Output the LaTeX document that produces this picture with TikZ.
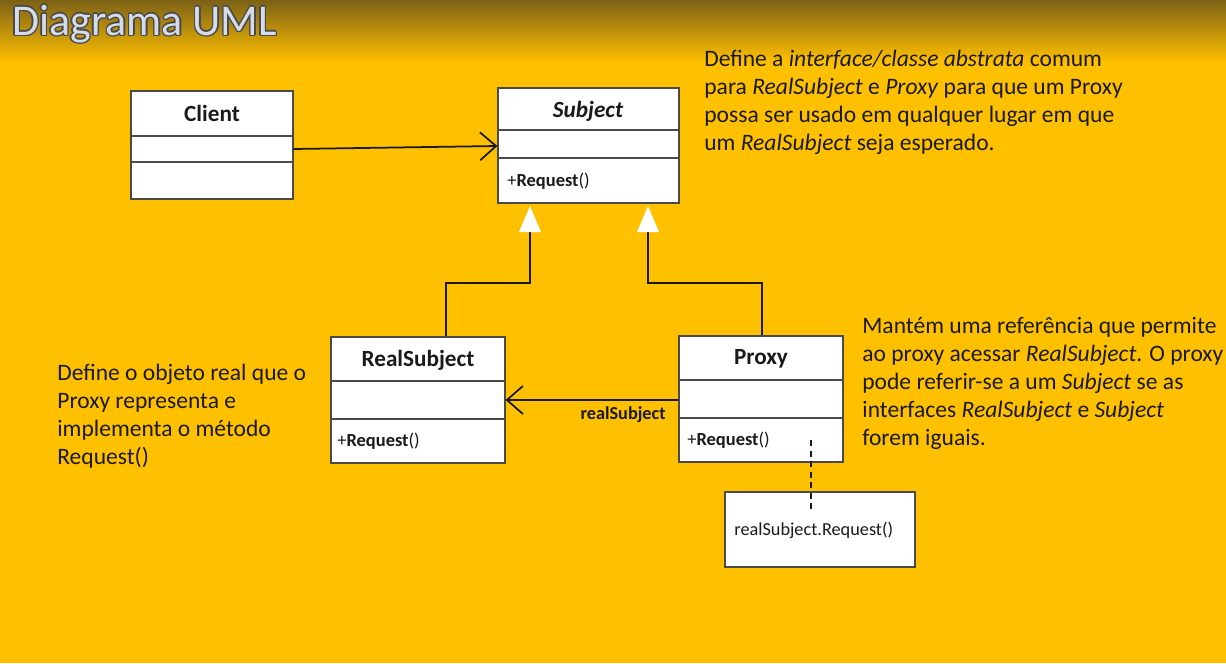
\documentclass[tikz,border=0pt]{standalone}
\usepackage{fontspec}
\setmainfont{Carlito}
\usetikzlibrary{positioning, arrows.meta, calc}

\definecolor{slideorange}{HTML}{FFC000}
\definecolor{slidebrown}{RGB}{125,98,22}
\definecolor{titlegray}{HTML}{D5DCE8}
\definecolor{edgegray}{HTML}{4A4A4A}
\definecolor{inkdark}{HTML}{1A1A1A}

\begin{document}
\begin{tikzpicture}[
                x=0.02cm, y=-0.02cm,
                umlclass/.style={draw=edgegray, fill=white, line width=0.7pt, inner sep=0pt},
                divider/.style={draw=edgegray, line width=0.7pt},
                classname/.style={font=\fontsize{13.2}{15}\selectfont\bfseries, text=inkdark},
                method/.style={font=\fontsize{10.5}{12}\selectfont, anchor=west, inner sep=0pt, text=inkdark},
                titletext/.style={font=\fontsize{25}{30}\selectfont, anchor=base west, inner sep=0pt},
                note/.style={align=left, anchor=north west, inner sep=0pt, text=inkdark, font=\fontsize{13.4}{15.9}\selectfont},
                assoc/.style={-{Straight Barb[length=0.32cm, width=0.56cm]}, line width=1pt, draw=inkdark},
                generalize/.style={-{Triangle[length=0.52cm, width=0.44cm, color=white, line width=0.3pt]}, line width=1pt, draw=inkdark, shorten >=1.5pt},
            ]
                \useasboundingbox (0,0) rectangle (1226,663);

                % Draw the slide background
                \fill[slideorange] (0,0) rectangle (1226,663);
                \shade[top color=slidebrown, bottom color=slideorange] (0,0) rectangle (1226,62);

                % Title with a dark outline
                \foreach \dx / \dy in {-1.5/0, 1.5/0, 0/-1.5, 0/1.5, -1/-1, 1/1, -1/1, 1/-1}
                    \node[titletext, text=edgegray] at (12+\dx, 35+\dy) {Diagrama UML};
                \node[titletext, text=titlegray] (title) at (12,35) {Diagrama UML};

                % Draw the class boxes
                \node[umlclass, minimum width=3.24cm, minimum height=2.16cm] (client) at (212,145) {};
                \node[umlclass, minimum width=3.62cm, minimum height=2.30cm] (subject) at (588.5,145.5) {};
                \node[umlclass, minimum width=3.48cm, minimum height=2.52cm] (real) at (418,400) {};
                \node[umlclass, minimum width=3.28cm, minimum height=2.52cm] (proxy) at (761,399) {};

                % Split every box into name, attributes and operations
                \foreach \name / \ya / \yb in {client/136/162, subject/130/158, real/381/419, proxy/380/418}
                {
                    \draw[divider] (\name.west |- 0,\ya) -- (\name.east |- 0,\ya);
                    \draw[divider] (\name.west |- 0,\yb) -- (\name.east |- 0,\yb);
                }

                % Class names
                \node[classname] (client-name) at (212,113) {Client};
                \node[classname] (subject-name) at (588,111) {\itshape Subject};
                \node[classname] (real-name) at (418,360) {RealSubject};
                \node[classname] (proxy-name) at (761,359) {Proxy};

                % Operations
                \foreach \name / \x / \y in {subject/507/181, real/337/441, proxy/687/440}
                    \node[method] (\name-op) at (\x,\y) {+\textbf{Request}()};

                % Associations
                \draw[assoc] (client.east |- 0,149) -- (subject.west |- 0,146);
                \draw[assoc] (proxy.west |- 0,400) -- node[below, pos=0.32, font=\fontsize{10.4}{12}\selectfont\bfseries, text=inkdark] (role) {realSubject} (real.east |- 0,400);

                % Generalizations up to Subject
                \draw[generalize] (real.north -| 446,0) |- (530,283) -- (subject.south -| 530,0);
                \draw[generalize] (proxy.north -| 762,0) |- (648,283) -- (subject.south -| 648,0);

                % Implementation note of Proxy.Request()
                \node[umlclass, minimum width=3.8cm, minimum height=1.5cm] (impl) at (820,529.5) {};
                \node[font=\fontsize{10.4}{12}\selectfont, anchor=west, inner sep=0pt, text=inkdark] (impl-text) at (734,530) {realSubject.Request()};
                \coordinate (call-start) at (811,440);
                \coordinate (call-end) at (811,510);
                \draw[dash pattern=on 3.5pt off 2.5pt, line width=1pt, draw=inkdark] (call-start) -- (call-end);

                % Descriptions
                \node[note] (subject-desc) at (704,50) {Define a \textit{interface/classe abstrata} comum\\
                    para \textit{RealSubject} e \textit{Proxy} para que um Proxy\\
                    possa ser usado em qualquer lugar em que\\
                    um \textit{RealSubject} seja esperado.};
                \node[note] (proxy-desc) at (862,317) {Mantém uma referência que permite\\
                    ao proxy acessar \textit{RealSubject}. O proxy\\
                    pode referir-se a um \textit{Subject} se as\\
                    interfaces \textit{RealSubject} e \textit{Subject}\\
                    forem iguais.};
                \node[note] (real-desc) at (57,364) {Define o objeto real que o\\
                    Proxy representa e\\
                    implementa o método\\
                    Request()};
            \end{tikzpicture}
\end{document}
